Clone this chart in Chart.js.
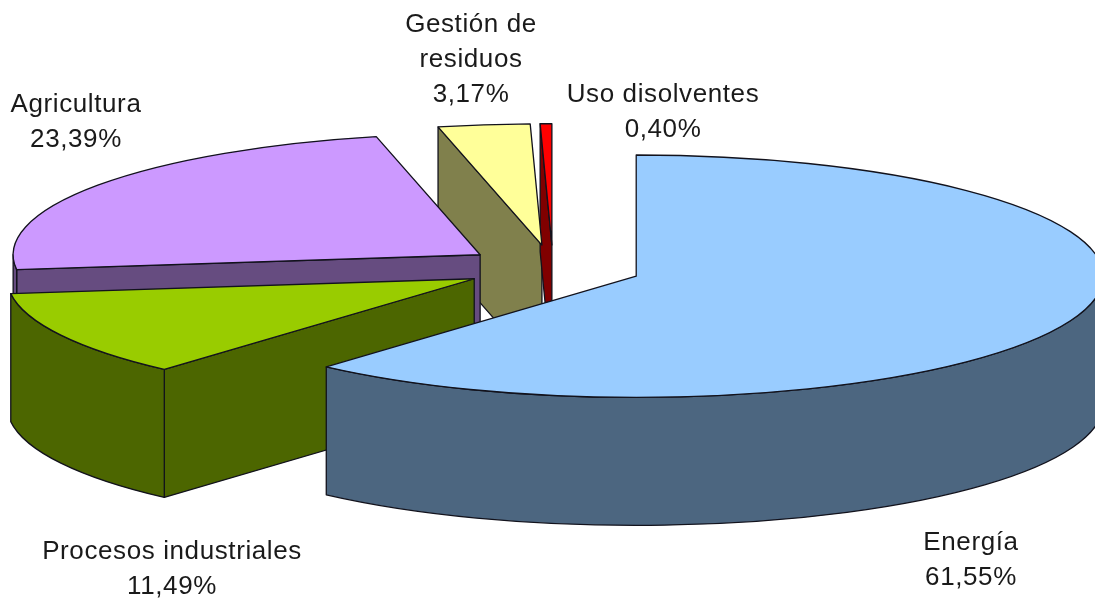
<!DOCTYPE html>
<html>
<head>
<meta charset="utf-8">
<style>html,body{margin:0;padding:0;background:#fff}#wrap{width:1095px;height:601px}</style>
<script src="https://cdn.jsdelivr.net/npm/chart.js@4"></script>
</head>
<body>
<div id="wrap"><canvas id="c" width="1095" height="601"></canvas></div>
<script>
const categories = ['Energía','Procesos industriales','Agricultura','Gestión de residuos','Uso disolventes'];
const shares = [61.55,11.49,23.39,3.17,0.40];
const topColors = ['#99CCFF','#99CC00','#CC99FF','#FFFF99','#FF0000'];
const wallColors = ['#4C6680','#4C6600','#664C80','#80804C','#800000'];
const labelLines = [['Energía'],['Procesos industriales'],['Agricultura'],['Gestión de','residuos'],['Uso disolventes']];

const labelAnchors = [[971,543],[172,552],[76,105],[471,25],[663,95]];
const TILT = 0.2595, DEPTH = 128, EXPLODE = 89, RADIUS = 467;
const CX = 553, CY = 268;

function screenY(y, cy){ return cy + (y - cy) * TILT; }

const pie3d = {
  id: 'pie3d',
  afterDatasetsUpdate(chart){
    chart.getDatasetMeta(0).data.forEach(el => {
      const mid = (el.startAngle + el.endAngle) / 2;
      el.x += Math.cos(mid) * EXPLODE;
      el.y += Math.sin(mid) * EXPLODE;
    });
  },
  beforeDatasetsDraw(chart){
    const ctx = chart.ctx, arcs = chart.getDatasetMeta(0).data;
    const cy = (chart.chartArea.top + chart.chartArea.bottom) / 2;
    ctx.save();
    ctx.lineWidth = 1.3; ctx.strokeStyle = '#12121c'; ctx.lineJoin = 'round';
    [3,4,2,1,0].forEach(i => {
      const el = arcs[i], R = el.outerRadius, x0 = el.x, y0 = screenY(el.y, cy);
      const px = a => x0 + R * Math.cos(a), py = a => y0 + R * TILT * Math.sin(a);
      ctx.fillStyle = wallColors[i];
      const quad = a => {
        ctx.beginPath();
        ctx.moveTo(x0, y0); ctx.lineTo(px(a), py(a));
        ctx.lineTo(px(a), py(a) + DEPTH); ctx.lineTo(x0, y0 + DEPTH);
        ctx.closePath(); ctx.fill(); ctx.stroke();
      };
      if (Math.cos(el.startAngle) < -1e-6) quad(el.startAngle);
      if (Math.cos(el.endAngle) > 1e-6) quad(el.endAngle);
      const a0 = Math.max(el.startAngle, 0), a1 = Math.min(el.endAngle, Math.PI);
      if (a1 > a0) {
        ctx.beginPath();
        ctx.ellipse(x0, y0, R, R * TILT, 0, a0, a1);
        ctx.lineTo(px(a1), py(a1) + DEPTH);
        ctx.ellipse(x0, y0 + DEPTH, R, R * TILT, 0, a1, a0, true);
        ctx.closePath(); ctx.fill(); ctx.stroke();
      }
    });
    ctx.restore();
    ctx.save();
    ctx.translate(0, cy); ctx.scale(1, TILT); ctx.translate(0, -cy);
  },
  afterDatasetsDraw(chart){
    const ctx = chart.ctx, arcs = chart.getDatasetMeta(0).data;
    ctx.restore();
    const cy = (chart.chartArea.top + chart.chartArea.bottom) / 2;
    ctx.save();
    ctx.lineWidth = 1.3; ctx.strokeStyle = '#12121c'; ctx.lineJoin = 'round';
    arcs.forEach(el => {
      const x0 = el.x, y0 = screenY(el.y, cy), R = el.outerRadius;
      ctx.beginPath();
      ctx.moveTo(x0, y0);
      ctx.ellipse(x0, y0, R, R * TILT, 0, el.startAngle, el.endAngle);
      ctx.closePath();
      ctx.stroke();
    });
    ctx.fillStyle = '#1a1a1a';
    ctx.font = '26px "Liberation Sans", Arial, sans-serif';
    ctx.letterSpacing = '0.6px';
    ctx.filter = 'blur(0.4px)';
    ctx.textAlign = 'center'; ctx.textBaseline = 'middle';
    labelLines.forEach((lines, i) => {
      const all = lines.concat(shares[i].toFixed(2).replace('.', ',') + '%');
      all.forEach((t, j) => ctx.fillText(t, labelAnchors[i][0], labelAnchors[i][1] + j * 35));
    });
    ctx.restore();
  }
};

new Chart(document.getElementById('c'), {
  type: 'pie',
  plugins: [pie3d],
  data: {
    labels: categories,
    datasets: [{
      data: shares,
      backgroundColor: topColors,
      borderWidth: 0,
      radius: RADIUS,
      clip: false
    }]
  },
  options: {
    responsive: false,
    animation: false,
    layout: { padding: { left: CX * 2 - 1095, right: 0, top: 0, bottom: 601 - CY * 2 } },
    plugins: { legend: { display: false }, tooltip: { enabled: false }, title: { display: false } }
  }
});
</script>
</body>
</html>
